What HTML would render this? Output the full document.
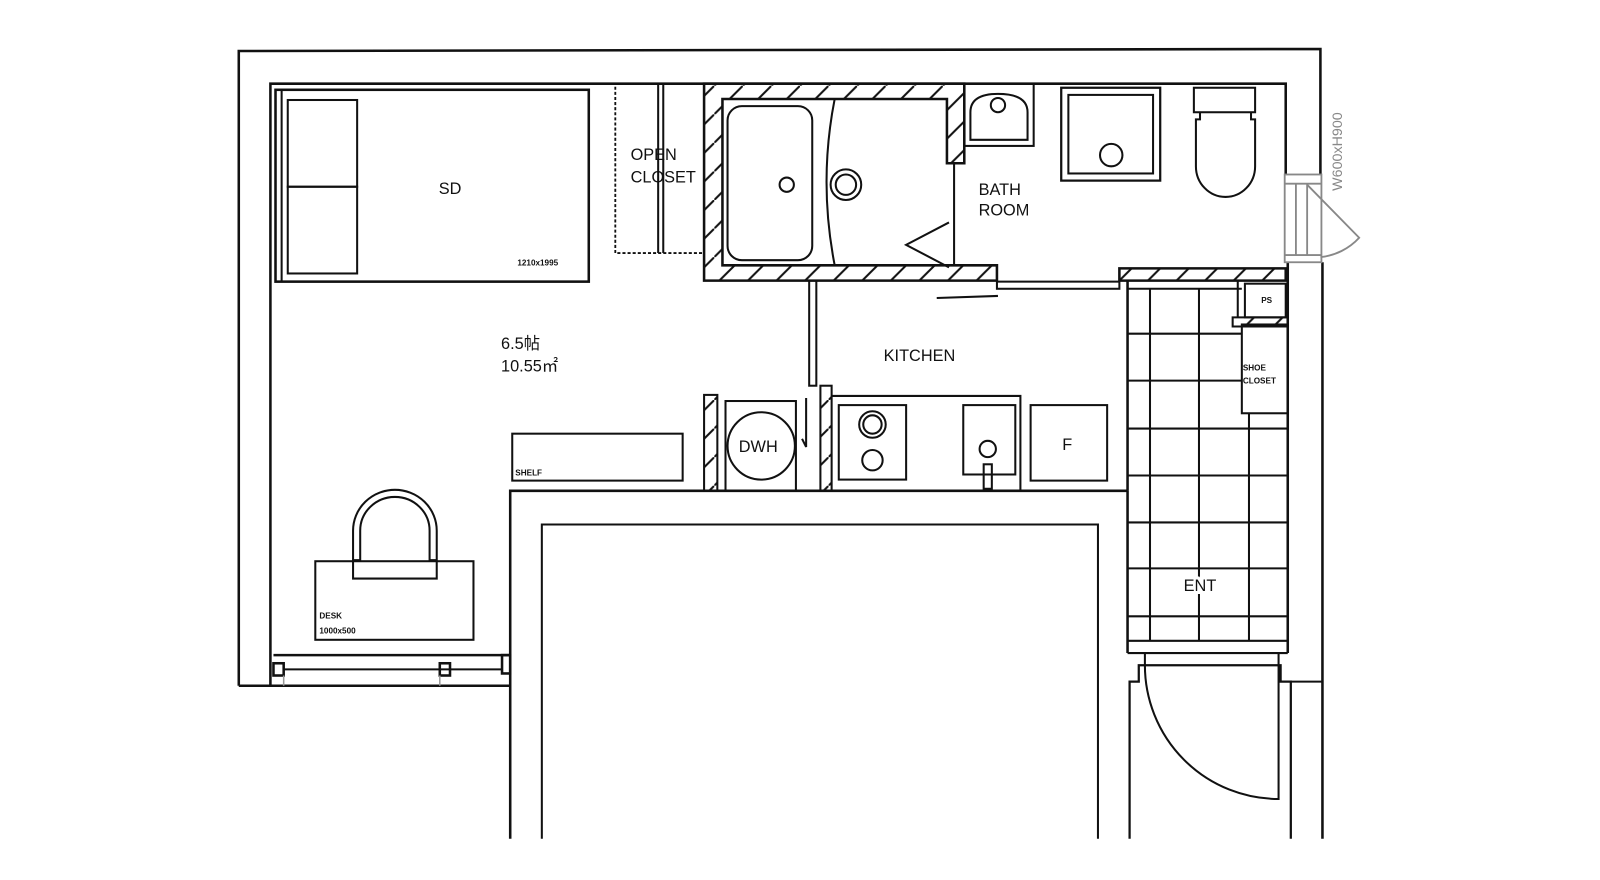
<!DOCTYPE html>
<html><head><meta charset="utf-8"><style>
html,body{margin:0;padding:0;background:#fff;width:1600px;height:880px;overflow:hidden}
svg{display:block}
text{font-family:"Liberation Sans","DejaVu Sans",sans-serif;fill:#111}
</style></head><body>
<svg width="1600" height="880" viewBox="0 0 1568 862.4" xmlns="http://www.w3.org/2000/svg">
<defs>
<pattern id="h" patternUnits="userSpaceOnUse" width="28" height="28">
<line x1="0" y1="28" x2="28" y2="0" stroke="#111" stroke-width="2"/>
</pattern>
</defs>
<g fill="none" stroke="#111" stroke-width="2.5">
<!-- outer walls -->
<polyline points="234,672 234,50 1294,48 1294,171"/>
<line x1="1296" y1="257" x2="1296" y2="822"/>
<polyline points="265,672 265,82 1260,82 1260,171"/>
<line x1="1262" y1="257" x2="1262" y2="640"/>
<line x1="234" y1="672" x2="500" y2="672"/>
<!-- balcony window -->
<line x1="268" y1="642" x2="500" y2="642"/>
<rect x="268" y="650" width="10" height="12"/>
<rect x="431" y="650" width="10" height="12"/>
<rect x="492" y="642" width="8" height="18"/>
<line x1="278" y1="656" x2="492" y2="656" stroke-width="2"/>
<line x1="278" y1="662" x2="278" y2="672" stroke="#999" stroke-width="1.5"/>
<line x1="431" y1="662" x2="431" y2="672" stroke="#999" stroke-width="1.5"/>
<!-- big lower block -->
<polyline points="500,822 500,481 1105,481"/>
<polyline points="531,822 531,514 1076,514 1076,822" stroke-width="2"/>
<!-- bed -->
<rect x="270" y="88" width="307" height="188"/>
<line x1="276" y1="88" x2="276" y2="276" stroke-width="2"/>
<rect x="282" y="98" width="68" height="85" stroke-width="2"/>
<rect x="282" y="183" width="68" height="85" stroke-width="2"/>
<!-- open closet -->
<rect x="603" y="82" width="87" height="166" stroke-dasharray="3,2" stroke-width="1.8"/>
<line x1="645" y1="82" x2="645" y2="248" stroke-width="2"/>
<line x1="650" y1="82" x2="650" y2="248" stroke-width="2"/>
<!-- bath hatched wall -->
<path d="M690,82 H945 V160 H928 V97 H708 V260 H977 V275 H690 Z" fill="url(#h)"/>
<path d="M1097,263 H1260 V275 H1097 Z" fill="url(#h)"/>
<rect x="713" y="104" width="83" height="151" rx="14" stroke-width="2"/>
<path d="M818,97 Q802,178 818,260" stroke-width="2"/>
<circle cx="771" cy="181" r="7" stroke-width="2"/>
<circle cx="829" cy="181" r="15" stroke-width="2"/>
<circle cx="829" cy="181" r="10" stroke-width="2"/>
<line x1="935" y1="160" x2="935" y2="260" stroke-width="2"/>
<polyline points="930,218 888,240 930,262" stroke-width="2"/>
<!-- bath door -->
<rect x="977" y="276" width="120" height="7" stroke-width="2"/>
<polyline points="978,290 918,292" stroke-width="2"/>
<!-- washbasin -->
<rect x="945" y="82" width="68" height="61" stroke-width="2"/>
<path d="M951,137 V110 Q951,92 978,92 Q1007,92 1007,110 V137 Z" stroke-width="2"/>
<circle cx="978" cy="103" r="7" stroke-width="2"/>
<!-- shower tray -->
<rect x="1040" y="86" width="97" height="91" stroke-width="2.2"/>
<rect x="1047" y="93" width="83" height="77" stroke-width="2"/>
<circle cx="1089" cy="152" r="11" stroke-width="2"/>
<!-- toilet -->
<rect x="1170" y="86" width="60" height="24" stroke-width="2"/>
<path d="M1176,110 V117 H1172 V163 A29,30 0 0 0 1230,163 V117 H1226 V110" stroke-width="2"/>
<!-- window right -->
<g stroke="#888" stroke-width="1.8">
<rect x="1259" y="171" width="36" height="86"/>
<line x1="1259" y1="180" x2="1295" y2="180"/>
<line x1="1259" y1="250" x2="1295" y2="250"/>
<line x1="1270" y1="180" x2="1270" y2="250"/>
<line x1="1281" y1="180" x2="1281" y2="250"/>
<path d="M1281,181 L1332,233 A60,60 0 0 1 1294,252"/>
</g>
<!-- kitchen partition -->
<rect x="793" y="275" width="7" height="103" stroke-width="2"/>
<rect x="690" y="387" width="13" height="94" fill="url(#h)" stroke-width="2"/>
<rect x="804" y="378" width="11" height="103" fill="url(#h)" stroke-width="2"/>
<rect x="711" y="393" width="69" height="88" stroke-width="2"/>
<circle cx="746" cy="437" r="33" stroke-width="2"/>
<polyline points="790,390 790,438 786,430" stroke-width="2"/>
<polyline points="815,388 1000,388 1000,481" stroke-width="2"/>
<rect x="822" y="397" width="66" height="73" stroke-width="2"/>
<circle cx="855" cy="416" r="13" stroke-width="2"/>
<circle cx="855" cy="416" r="9" stroke-width="2"/>
<circle cx="855" cy="451" r="10" stroke-width="2"/>
<rect x="944" y="397" width="51" height="68" stroke-width="2"/>
<circle cx="968" cy="440" r="8" stroke-width="2"/>
<rect x="964" y="455" width="8" height="24" stroke-width="2"/>
<rect x="1010" y="397" width="75" height="74" stroke-width="2"/>
<!-- shelf -->
<rect x="502" y="425" width="167" height="46" stroke-width="2"/>
<!-- desk & chair -->
<rect x="309" y="550" width="155" height="77" stroke-width="2"/>
<path d="M346,567 V520 A41,40 0 0 1 428,520 V567 Z" stroke-width="2"/>
<path d="M346,549 H353 V520 A34,33 0 0 1 421,520 V549 H428" stroke-width="2"/>
<!-- entrance tiles -->
<polyline points="1105,481 1105,275" />
<g stroke-width="2">
<line x1="1105" y1="283" x2="1217" y2="283"/>
<line x1="1127" y1="283" x2="1127" y2="628"/>
<line x1="1175" y1="283" x2="1175" y2="628"/>
<line x1="1224" y1="405" x2="1224" y2="628"/>
<line x1="1105" y1="327" x2="1217" y2="327"/>
<line x1="1105" y1="373" x2="1217" y2="373"/>
<line x1="1105" y1="420" x2="1262" y2="420"/>
<line x1="1105" y1="466" x2="1262" y2="466"/>
<line x1="1105" y1="512" x2="1262" y2="512"/>
<line x1="1105" y1="557" x2="1262" y2="557"/>
<line x1="1105" y1="604" x2="1262" y2="604"/>
<line x1="1105" y1="628" x2="1262" y2="628"/>
<rect x="1217" y="318" width="45" height="87"/>
<rect x="1220" y="278" width="40" height="33"/>
<path d="M1208,311 H1262 V320 H1208 Z" fill="url(#h)"/>
<line x1="1213" y1="275" x2="1213" y2="311"/>
</g>
<line x1="1105" y1="481" x2="1105" y2="640"/>
<!-- entrance door -->
<polyline points="1105,640 1262,640" stroke-width="2"/>
<polyline points="1107,822 1107,668 1116,668 1116,652 1255,652 1255,668 1265,668 1265,822" stroke-width="2.2"/>
<line x1="1122" y1="652" x2="1122" y2="640" stroke-width="2"/>
<line x1="1253" y1="652" x2="1253" y2="640" stroke-width="2"/>
<path d="M1122,652 A131,131 0 0 0 1253,783 V652" stroke-width="2"/>
<line x1="1265" y1="668" x2="1296" y2="668" stroke-width="2"/>
</g>
<g font-size="16">
<text x="430" y="190">SD</text>
<text x="618" y="157">OPEN</text>
<text x="618" y="179">CLOSET</text>
<text x="959" y="191">BATH</text>
<text x="959" y="211">ROOM</text>
<text x="866" y="354">KITCHEN</text>
<text x="724" y="443">DWH</text>
<text x="1041" y="441">F</text>
<text x="491" y="342">6.5帖</text>
<text x="491" y="364">10.55㎡</text>
<text x="1160" y="579" style="paint-order:stroke" stroke="#fff" stroke-width="6">ENT</text>
</g>
<g font-size="8" font-weight="bold">
<text x="507" y="260">1210x1995</text>
<text x="505" y="466">SHELF</text>
<text x="313" y="606">DESK</text>
<text x="313" y="621">1000x500</text>
<text x="1236" y="297">PS</text>
<text x="1218" y="363">SHOE</text>
<text x="1218" y="376">CLOSET</text>
</g>
<text x="0" y="0" font-size="14" fill="#888" style="fill:#888" transform="translate(1315,187) rotate(-90)">W600xH900</text>
</svg>
</body></html>
